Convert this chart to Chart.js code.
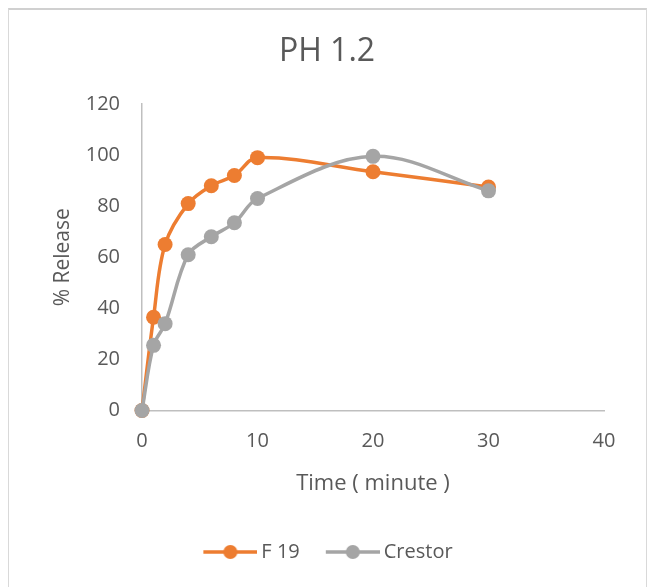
<!DOCTYPE html>
<html>
<head>
<meta charset="utf-8">
<script src="https://cdn.jsdelivr.net/npm/chart.js@4.4.1/dist/chart.umd.min.js"></script>
<style>
  html, body { margin: 0; padding: 0; background: #ffffff; overflow: hidden; width: 650px; height: 587px; }
  #wrap { position: absolute; left: 0; top: 0; width: 650px; height: 580px; }
  #frame { position: absolute; left: 8px; top: 8px; width: 637px; height: 620px;
           border-top: 2px solid #d0d0d0; border-left: 1px solid #d9d9d9; border-right: 1px solid #d9d9d9; pointer-events: none; }
</style>
</head>
<body>
<div id="wrap"><canvas id="c"></canvas></div>
<div id="frame"></div>
<script>
const chartTitle = 'PH 1.2';
const xTitle = 'Time ( minute )';
const yTitle = '% Release';
const seriesNames = ['F 19', 'Crestor'];
const timePoints = [0, 1, 2, 4, 6, 8, 10, 20, 30];
const f19Values = [0, 36.5, 65, 81, 88, 92, 99, 93.5, 87.5];
const crestorValues = [0, 25.5, 34, 61, 68, 73.5, 83, 99.5, 86];
const xTickValues = [0, 10, 20, 30, 40];
const yTickValues = [0, 20, 40, 60, 80, 100, 120];

const ORANGE = '#ED7D31';
const GREY = '#A5A5A5';
const TEXT = '#595959';
const FONT = "'Open Sans', 'Liberation Sans', sans-serif";

function legendImg(color) {
  const c = document.createElement('canvas');
  c.width = 62; c.height = 16;
  const g = c.getContext('2d');
  g.strokeStyle = color; g.lineWidth = 3.5;
  g.beginPath(); g.moveTo(8, 8); g.lineTo(62, 8); g.stroke();
  g.fillStyle = color;
  g.beginPath(); g.arc(35, 8, 7, 0, Math.PI * 2); g.fill();
  return c;
}

function pts(xs, ys) { return xs.map((x, i) => ({ x: x, y: ys[i] })); }

const ds = (label, values, color, order) => ({
  label: label,
  data: pts(timePoints, values),
  borderColor: color,
  backgroundColor: color,
  pointBackgroundColor: color,
  pointBorderColor: color,
  pointRadius: 7.5,
  pointHoverRadius: 7.5,
  pointBorderWidth: 0,
  borderWidth: 3.5,
  tension: 0.35,
  showLine: true,
  fill: false,
  clip: false,
  order: order,
  pointStyle: 'circle'
});

new Chart(document.getElementById('c'), {
  type: 'scatter',
  data: {
    datasets: [
      ds(seriesNames[0], f19Values, ORANGE, 2),
      ds(seriesNames[1], crestorValues, GREY, 1)
    ]
  },
  options: {
    responsive: true,
    maintainAspectRatio: false,
    animation: false,
    events: [],
    layout: { padding: { left: 50, right: 46, top: 0, bottom: 8 } },
    plugins: {
      tooltip: { enabled: false },
      title: {
        display: true,
        text: chartTitle,
        color: TEXT,
        font: { family: FONT, size: 32, weight: 'normal', lineHeight: 1.2 },
        padding: { top: 32.8, bottom: 32.8 }
      },
      legend: {
        display: true,
        position: 'bottom',
        labels: {
          color: TEXT,
          font: { family: FONT, size: 20 },
          usePointStyle: true,
          pointStyleWidth: 50,
          padding: 24,
          sort: (a, b) => a.datasetIndex - b.datasetIndex,
          generateLabels: (chart) => chart.data.datasets.map((d, i) => ({
            text: d.label,
            fillStyle: d.borderColor,
            strokeStyle: d.borderColor,
            lineWidth: 0,
            pointStyle: legendImg(d.borderColor),
            hidden: false,
            datasetIndex: i,
            fontColor: TEXT
          }))
        }
      }
    },
    scales: {
      x: {
        type: 'linear',
        min: 0, max: 40,
        afterBuildTicks: (s) => { s.ticks = xTickValues.map(v => ({ value: v })); },
        grid: { display: false, drawTicks: false },
        border: { display: true, color: '#BFBFBF', width: 1.5 },
        ticks: { color: TEXT, font: { family: FONT, size: 20 }, padding: 19, maxRotation: 0 },
        title: { display: true, text: xTitle, color: TEXT, font: { family: FONT, size: 22 }, padding: { top: 0, bottom: 20.8 } },
        afterFit: (s) => { s.height = 107.5; }
      },
      y: {
        type: 'linear',
        min: 0, max: 120,
        afterBuildTicks: (s) => { s.ticks = yTickValues.map(v => ({ value: v })); },
        grid: { display: false, drawTicks: false },
        border: { display: true, color: '#BFBFBF', width: 1.5 },
        ticks: { color: TEXT, font: { family: FONT, size: 20 }, padding: 22 },
        title: { display: true, text: yTitle, color: TEXT, font: { family: FONT, size: 21 }, padding: { top: 0, bottom: 0 } },
        afterFit: (s) => { s.width = 92; }
      }
    }
  }
});
</script>
</body>
</html>
